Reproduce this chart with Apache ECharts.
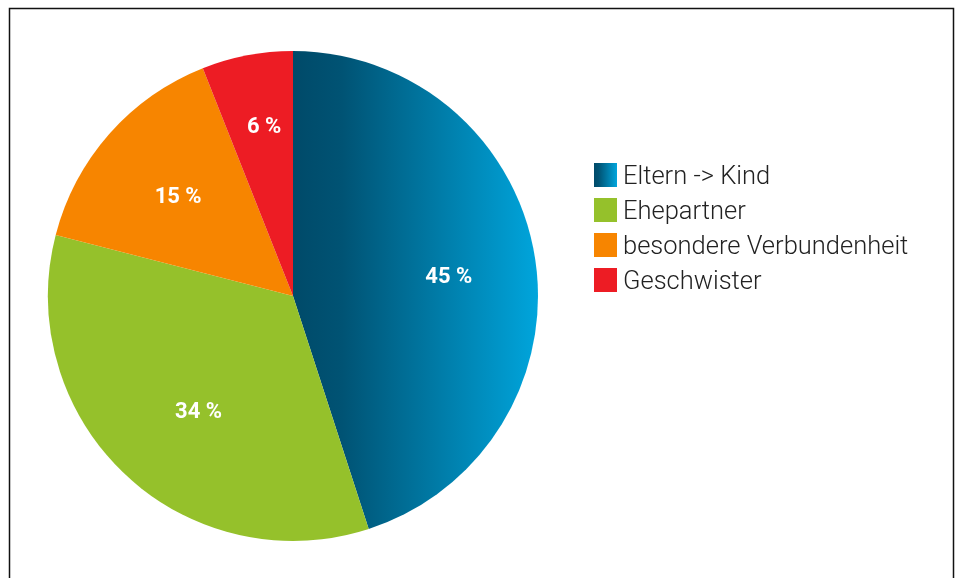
<!DOCTYPE html>
<html>
<head>
<meta charset="utf-8">
<script src="https://cdn.jsdelivr.net/npm/echarts@6/dist/echarts.min.js"></script>
<style>
  html, body { margin: 0; padding: 0; background: #fff; }
  #chart { width: 960px; height: 578px; }
</style>
</head>
<body>
<div id="chart"></div>
<script>
(function () {
  "use strict";

  // Data
  const categories = ['Eltern -> Kind', 'Ehepartner', 'besondere Verbundenheit', 'Geschwister'];
  const shares = [45, 34, 15, 6];
  const sliceColors = [
    new echarts.graphic.LinearGradient(0, 0, 1, 0, [
      { offset: 0, color: '#004a69' },
      { offset: 0.2, color: '#005374' },
      { offset: 1, color: '#00a5dc' }
    ]),
    '#95c12b',
    '#f78500',
    '#ed1c24'
  ];
  // small nudges so the labels sit where the original puts them
  const labelOffsets = [[-2, 6], [15, 0], [5, 7], [1, -12]];

  const center = [293, 296];
  const radius = 245;

  const chart = echarts.init(document.getElementById('chart'), null, { renderer: 'canvas' });

  chart.setOption({
    backgroundColor: '#fff',
    animation: false,
    legend: {
      orient: 'vertical',
      left: 589,
      top: 154,
      itemWidth: 23,
      itemHeight: 24,
      itemGap: 3,
      icon: 'rect',
      selectedMode: false,
      formatter: name => '{t|' + name + '}',
      textStyle: {
        rich: {
          t: {
            fontFamily: 'Roboto, sans-serif',
            fontWeight: 300,
            fontSize: 25.5,
            lineHeight: 24,
            color: '#222',
            padding: [6, 0, 0, 1]
          }
        }
      },
      data: categories
    },
    series: [
      {
        // drawn slices
        type: 'pie',
        center,
        radius,
        startAngle: 90,
        clockwise: true,
        silent: true,
        label: { show: false },
        labelLine: { show: false },
        itemStyle: { borderWidth: 0 },
        data: categories.map((name, i) => ({
          name,
          value: shares[i],
          itemStyle: { color: sliceColors[i] }
        }))
      },
      {
        // transparent ring carrying the percentage labels further out
        type: 'pie',
        center,
        radius: [radius * 0.28, radius],
        startAngle: 90,
        clockwise: true,
        silent: true,
        legendHoverLink: false,
        itemStyle: { color: 'rgba(0,0,0,0)', borderWidth: 0 },
        label: {
          show: true,
          position: 'inside',
          formatter: p => p.value + ' %',
          color: '#fff',
          fontFamily: 'Roboto, sans-serif',
          fontWeight: 'bold',
          fontSize: 22
        },
        labelLine: { show: false },
        data: categories.map((name, i) => ({
          name: name + ' ',
          value: shares[i],
          label: { offset: labelOffsets[i] }
        }))
      }
    ],
    graphic: [
      {
        type: 'rect',
        shape: { x: 9.5, y: 8.5, width: 944, height: 620 },
        style: { fill: 'none', stroke: '#111', lineWidth: 1.5 },
        silent: true
      }
    ]
  });
})();
</script>
</body>
</html>
